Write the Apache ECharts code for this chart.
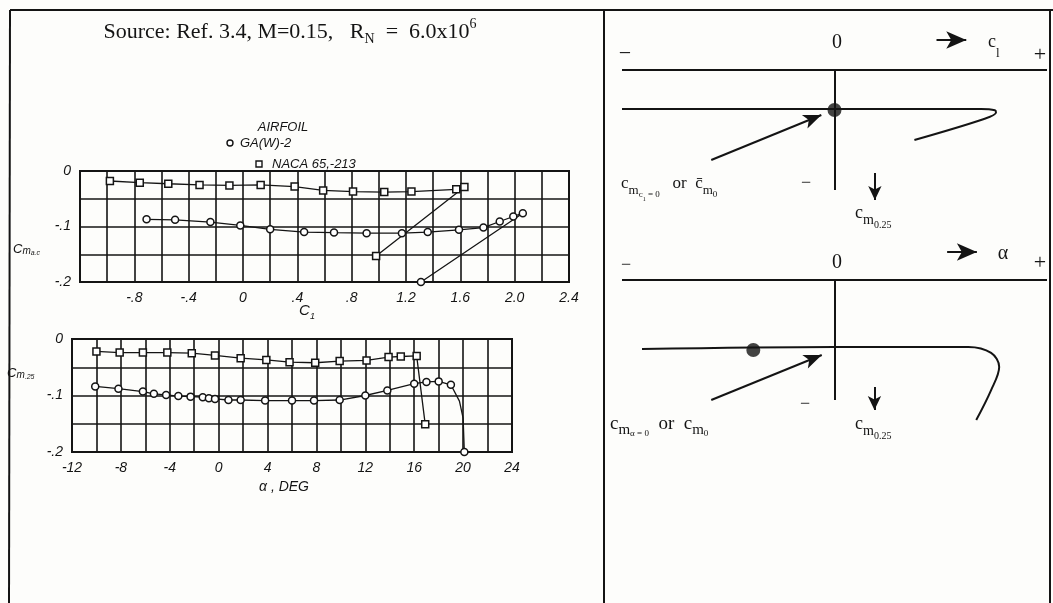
<!DOCTYPE html>
<html>
<head>
<meta charset="utf-8">
<script src="https://cdn.jsdelivr.net/npm/echarts@6/dist/echarts.min.js"></script>
<style>
html, body { margin: 0; padding: 0; background: #fdfdfb; }
#chart { width: 1053px; height: 603px; }
</style>
</head>
<body>
<div id="chart"></div>
<script>
// upper plot: pitching moment vs lift coefficient
const gawCl = [-0.71, -0.50, -0.24, -0.02, 0.20, 0.45, 0.67, 0.91, 1.17, 1.36, 1.59, 1.77, 1.89, 1.99, 2.06, 1.31]
const gawCmCl = [-0.087, -0.088, -0.092, -0.098, -0.105, -0.110, -0.111, -0.112, -0.112, -0.110, -0.106, -0.102, -0.091, -0.082, -0.076, -0.200]
const nacaCl = [-0.98, -0.76, -0.55, -0.32, -0.10, 0.13, 0.38, 0.59, 0.81, 1.04, 1.24, 1.57, 1.63, 0.98]
const nacaCmCl = [-0.018, -0.021, -0.023, -0.025, -0.026, -0.025, -0.028, -0.035, -0.037, -0.038, -0.037, -0.033, -0.029, -0.153]

// lower plot: pitching moment vs angle of attack
const gawAlpha = [-10.1, -8.2, -6.2, -5.3, -4.3, -3.3, -2.3, -1.3, -0.8, -0.3, 0.8, 1.8, 3.8, 6.0, 7.8, 9.9, 12.0, 13.8, 16.0, 17.0, 18.0, 19.0, 19.7, 20.0, 20.1]
const gawCmAlpha = [-0.084, -0.088, -0.093, -0.097, -0.099, -0.101, -0.102, -0.103, -0.105, -0.106, -0.108, -0.108, -0.109, -0.109, -0.109, -0.108, -0.100, -0.091, -0.079, -0.076, -0.075, -0.081, -0.110, -0.140, -0.200]
const gawAlphaNoMarker = [22, 23]
const nacaAlpha = [-10.0, -8.1, -6.2, -4.2, -2.2, -0.3, 1.8, 3.9, 5.8, 7.9, 9.9, 12.1, 13.9, 14.9, 16.2, 16.9]
const nacaCmAlpha = [-0.022, -0.024, -0.024, -0.024, -0.025, -0.029, -0.034, -0.037, -0.041, -0.042, -0.039, -0.038, -0.032, -0.031, -0.030, -0.151]

// sketches on the right (arbitrary units)
const sketchClX = [-1, 0.69, 0.755, 0.76, 0.70, 0.376]
const sketchClY = [-0.325, -0.325, -0.335, -0.355, -0.41, -0.583]
const sketchClDot = [0, -0.333]
const sketchAlphaX = [-0.906, 0, 0.63, 0.737, 0.775, 0.737, 0.667]
const sketchAlphaY = [-0.575, -0.558, -0.558, -0.608, -0.725, -0.917, -1.167]
const sketchAlphaDot = [-0.382, -0.583]

const serif = '"Liberation Serif", "DejaVu Serif", serif'
const hand = '"Liberation Sans", "DejaVu Sans", sans-serif'
const ink = '#141414'

const zip = (xs, ys) => xs.map((x, i) => [x, ys[i]])

function fmtTick (v) {
  if (Math.abs(v) < 1e-9) return '0'
  return v.toFixed(1).replace(/^(-?)0\./, '$1.')
}

const chart = echarts.init(document.getElementById('chart'))

function plotAxis (grid, min, max, interval, fmt) {
  return {
    type: 'value',
    gridIndex: grid,
    min: min,
    max: max,
    interval: interval,
    axisLine: { show: true, onZero: false, lineStyle: { color: ink, width: 2 } },
    axisTick: { show: false },
    minorTick: { show: false, splitNumber: 2 },
    splitLine: { show: true, lineStyle: { color: ink, width: 1.6 } },
    minorSplitLine: { show: true, lineStyle: { color: ink, width: 1.6 } },
    axisLabel: {
      formatter: fmt,
      color: ink,
      fontFamily: hand,
      fontStyle: 'italic',
      fontSize: 14,
      margin: 9
    }
  }
}

function sketchAxis (grid, min, max) {
  return { type: 'value', gridIndex: grid, min: min, max: max, show: false }
}

function markerStyle () {
  return { color: '#fff', borderColor: ink, borderWidth: 1.5 }
}

function arrow (from, to, size) {
  return [
    { coord: from, symbol: 'none' },
    { coord: to, symbol: 'arrow', symbolSize: size }
  ]
}

function sketchMarks (bigArrowFrom, bigArrowTo, pointerFrom, pointerTo, downFrom, downTo) {
  return {
    silent: true,
    animation: false,
    label: { show: false },
    lineStyle: { color: ink, width: 2, type: 'solid' },
    emphasis: { disabled: true },
    data: [
      [{ coord: [-1, 0], symbol: 'none' }, { coord: [1, 0], symbol: 'none' }],
      [{ coord: [0, 0], symbol: 'none' }, { coord: [0, -1], symbol: 'none' }],
      arrow(pointerFrom, pointerTo, [11, 18]),
      arrow(downFrom, downTo, [10, 14]),
      arrow(bigArrowFrom, bigArrowTo, [13, 20])
    ]
  }
}

// rich token aligned to the line bottom, raised by pb pixels
function tok (fs, pb, family, italic) {
  return {
    fontSize: fs,
    fontFamily: family || serif,
    fontStyle: italic ? 'italic' : 'normal',
    padding: [0, 0, pb, 0],
    verticalAlign: 'bottom',
    fill: ink
  }
}

function rtext (x, yBottom, text, rich, align) {
  return {
    type: 'text',
    x: x,
    y: yBottom,
    silent: true,
    style: {
      text: text,
      rich: rich,
      fill: ink,
      align: align || 'left',
      textAlign: align || 'left',
      verticalAlign: 'bottom',
      textVerticalAlign: 'bottom'
    }
  }
}

function ptext (x, y, text, size, family, italic, align) {
  return {
    type: 'text',
    x: x,
    y: y,
    silent: true,
    style: {
      text: text,
      fill: ink,
      fontSize: size,
      fontFamily: family || serif,
      fontStyle: italic ? 'italic' : 'normal',
      align: align || 'center',
      textAlign: align || 'center',
      verticalAlign: 'middle',
      textVerticalAlign: 'middle'
    }
  }
}

function frameLine (x1, y1, x2, y2) {
  return { type: 'line', silent: true, shape: { x1: x1, y1: y1, x2: x2, y2: y2 }, style: { stroke: ink, lineWidth: 2 } }
}

const cm25Rich = { c: tok(18, 12.8), m: tok(14, 7.6), s: tok(10, 5) }

const option = {
  backgroundColor: '#fdfdfb',
  animation: false,
  grid: [
    { left: 80, top: 171, width: 489, height: 111, show: true, borderColor: ink, borderWidth: 2, backgroundColor: 'transparent' },
    { left: 72, top: 339, width: 440, height: 113, show: true, borderColor: ink, borderWidth: 2, backgroundColor: 'transparent' },
    { left: 622, top: 34, width: 425, height: 180 },
    { left: 622, top: 244, width: 425, height: 180 }
  ],
  xAxis: [
    plotAxis(0, -1.2, 2.4, 0.4, v => (v < -1.1 ? '' : fmtTick(v))),
    plotAxis(1, -12, 24, 4, v => String(v)),
    sketchAxis(2, -1, 1),
    sketchAxis(3, -1, 1)
  ],
  yAxis: [
    plotAxis(0, -0.2, 0, 0.1, fmtTick),
    plotAxis(1, -0.2, 0, 0.1, fmtTick),
    sketchAxis(2, -1.2, 0.3),
    sketchAxis(3, -1.2, 0.3)
  ],
  series: [
    {
      name: 'GA(W)-2',
      type: 'line',
      xAxisIndex: 0,
      yAxisIndex: 0,
      data: zip(gawCl, gawCmCl),
      symbol: 'circle',
      symbolSize: 7,
      itemStyle: markerStyle(),
      lineStyle: { color: ink, width: 1.3 },
      clip: false
    },
    {
      name: 'NACA 65,-213',
      type: 'line',
      xAxisIndex: 0,
      yAxisIndex: 0,
      data: zip(nacaCl, nacaCmCl),
      symbol: 'rect',
      symbolSize: 7,
      itemStyle: markerStyle(),
      lineStyle: { color: ink, width: 1.3 },
      clip: false
    },
    {
      name: 'GA(W)-2 alpha',
      type: 'line',
      xAxisIndex: 1,
      yAxisIndex: 1,
      data: zip(gawAlpha, gawCmAlpha).map((p, i) =>
        gawAlphaNoMarker.includes(i) ? { value: p, symbol: 'none' } : p),
      symbol: 'circle',
      symbolSize: 7,
      itemStyle: markerStyle(),
      lineStyle: { color: ink, width: 1.3 },
      clip: false
    },
    {
      name: 'NACA alpha',
      type: 'line',
      xAxisIndex: 1,
      yAxisIndex: 1,
      data: zip(nacaAlpha, nacaCmAlpha),
      symbol: 'rect',
      symbolSize: 7,
      itemStyle: markerStyle(),
      lineStyle: { color: ink, width: 1.3 },
      clip: false
    },
    {
      name: 'sketch cl',
      type: 'line',
      xAxisIndex: 2,
      yAxisIndex: 2,
      data: zip(sketchClX, sketchClY),
      smooth: 0.35,
      symbol: 'none',
      clip: false,
      lineStyle: { color: ink, width: 2 },
      markLine: sketchMarks([0.48, 0.25], [0.62, 0.25], [-0.58, -0.75], [-0.062, -0.375], [0.19, -0.858], [0.19, -1.083])
    },
    {
      name: 'sketch cl dot',
      type: 'scatter',
      xAxisIndex: 2,
      yAxisIndex: 2,
      data: [sketchClDot],
      symbolSize: 14,
      itemStyle: { color: ink }
    },
    {
      name: 'sketch alpha',
      type: 'line',
      xAxisIndex: 3,
      yAxisIndex: 3,
      data: zip(sketchAlphaX, sketchAlphaY),
      smooth: 0.35,
      symbol: 'none',
      clip: false,
      lineStyle: { color: ink, width: 2 },
      markLine: sketchMarks([0.53, 0.233], [0.67, 0.233], [-0.58, -1.0], [-0.06, -0.625], [0.188, -0.892], [0.188, -1.083])
    },
    {
      name: 'sketch alpha dot',
      type: 'scatter',
      xAxisIndex: 3,
      yAxisIndex: 3,
      data: [sketchAlphaDot],
      symbolSize: 14,
      itemStyle: { color: ink }
    }
  ],
  graphic: [
    // frame
    frameLine(10, 10, 1053, 10),
    frameLine(10, 10, 9, 603),
    frameLine(604, 10, 604, 603),
    frameLine(1050, 10, 1050, 603),
    // title
    rtext(290, 47, '{a|Source: Ref. 3.4, M=0.15,   R}{n|N}{a|  =  6.0x10}{p|6}', {
      a: tok(22, 4), n: tok(14, 0.5), p: tok(14, 16)
    }, 'center'),
    // legend
    ptext(283, 127, 'AIRFOIL', 13, hand, true),
    { type: 'circle', silent: true, shape: { cx: 230, cy: 143, r: 3 }, style: { fill: '#fff', stroke: ink, lineWidth: 1.4 } },
    ptext(240, 143, 'GA(W)-2', 13, hand, true, 'left'),
    { type: 'rect', silent: true, shape: { x: 256, y: 161, width: 6, height: 6 }, style: { fill: '#fff', stroke: ink, lineWidth: 1.4 } },
    ptext(272, 164, 'NACA 65,-213', 13, hand, true, 'left'),
    // axis names, left plots
    rtext(13, 258, '{c|C}{m|m}{s|a.c}', { c: tok(13, 2.5, hand, true), m: tok(10, 2, hand, true), s: tok(7, 1, hand, true) }),
    rtext(7, 381, '{c|C}{m|m}{s|.25}', { c: tok(13, 1.5, hand, true), m: tok(10, 1, hand, true), s: tok(7, 0.5, hand, true) }),
    rtext(307, 322, '{c|C}{s|1}', { c: tok(15, 3.5, hand, true), s: tok(9, 1.5, hand, true) }, 'center'),
    ptext(284, 487, 'α , DEG', 14, hand, true),
    // upper sketch texts
    ptext(625, 54, '−', 22),
    ptext(837, 43, '0', 20),
    rtext(988, 60, '{c|c}{s|l}', { c: tok(18, 9), s: tok(13, 0) }),
    ptext(1040, 55, '+', 22),
    rtext(621, 205, '{c|c}{m|m}{s|c}{ss|1}{s| = 0}{c|   or  c\u0304}{m|m}{s|0}', {
      c: tok(17, 13.2), m: tok(13, 7.8), s: tok(9, 5.9), ss: tok(6, 2.5)
    }),
    ptext(806, 183, '−', 18),
    rtext(855, 235, '{c|c}{m|m}{s|0.25}', cm25Rich),
    // lower sketch texts
    ptext(626, 265, '−', 18),
    ptext(837, 263, '0', 20),
    ptext(1003, 254, 'α', 20),
    ptext(1040, 263, '+', 22),
    rtext(610, 446, '{c|c}{m|m}{s|α = 0}{c|  or  c}{m|m}{s|0}', {
      c: tok(19, 12.5), m: tok(15, 8), s: tok(9, 8)
    }),
    ptext(805, 404, '−', 18),
    rtext(855, 446, '{c|c}{m|m}{s|0.25}', cm25Rich)
  ]
}

chart.setOption(option)
</script>
</body>
</html>
